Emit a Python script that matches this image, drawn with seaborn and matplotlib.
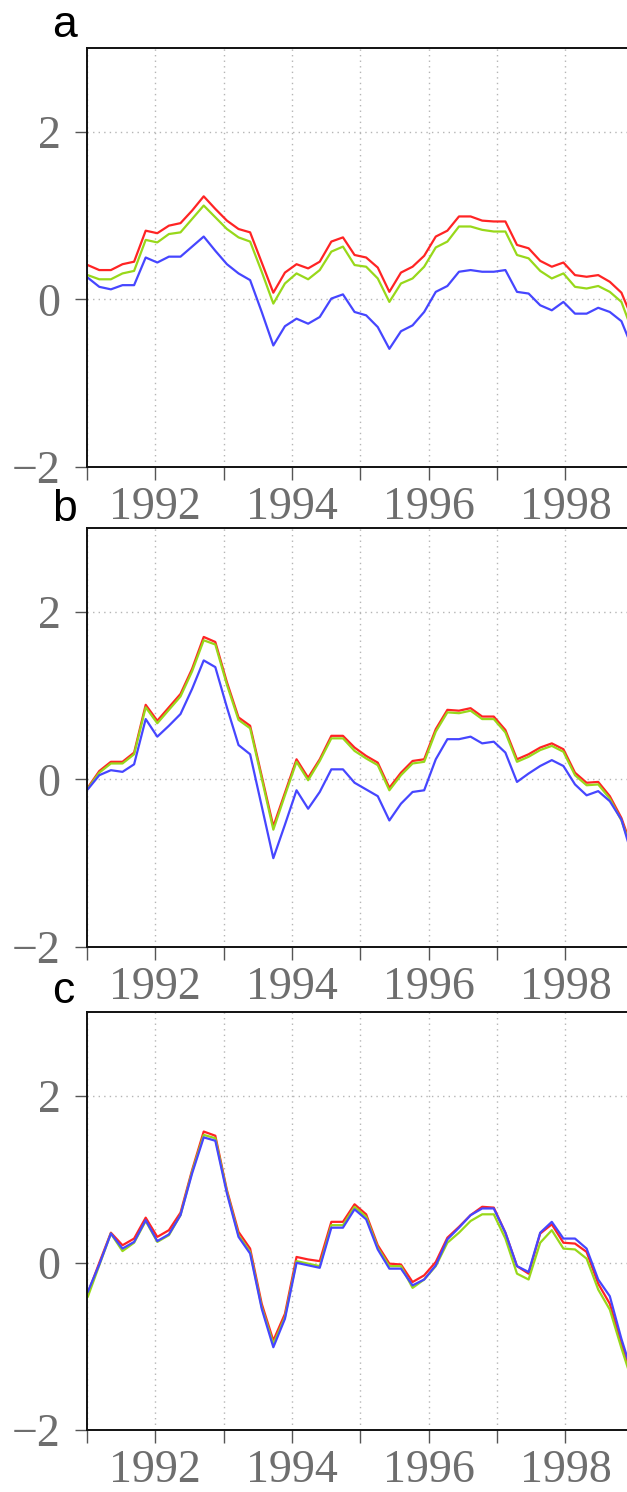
import numpy as np
import pandas as pd
import matplotlib
matplotlib.use("Agg")
import matplotlib.pyplot as plt
import seaborn as sns

# ---- data (bimonthly-ish samples starting early 1991) ----
n_points = 48
t0 = 1991.01
dt = 62 / 365.25
times = t0 + np.arange(n_points) * dt

a_red = [0.41, 0.35, 0.35, 0.42, 0.45, 0.82, 0.79, 0.88, 0.91, 1.06, 1.23, 1.08, 0.94, 0.84, 0.80, 0.44,
         0.08, 0.32, 0.42, 0.37, 0.45, 0.69, 0.74, 0.53, 0.50, 0.38, 0.09, 0.32, 0.39, 0.52, 0.75, 0.82,
         0.99, 0.99, 0.94, 0.93, 0.93, 0.65, 0.61, 0.46, 0.39, 0.44, 0.29, 0.27, 0.29, 0.21, 0.08, -0.25]
a_green = [0.29, 0.24, 0.24, 0.31, 0.34, 0.71, 0.68, 0.78, 0.80, 0.96, 1.12, 0.98, 0.84, 0.74, 0.69, 0.33,
           -0.05, 0.19, 0.31, 0.24, 0.35, 0.57, 0.63, 0.41, 0.39, 0.25, -0.03, 0.19, 0.25, 0.39, 0.62, 0.69,
           0.87, 0.87, 0.83, 0.81, 0.81, 0.53, 0.49, 0.34, 0.25, 0.31, 0.15, 0.13, 0.16, 0.09, -0.03, -0.40]
a_blue = [0.26, 0.15, 0.12, 0.17, 0.17, 0.50, 0.44, 0.51, 0.51, 0.63, 0.75, 0.58, 0.42, 0.31, 0.23, -0.15,
          -0.55, -0.32, -0.23, -0.29, -0.21, 0.01, 0.06, -0.15, -0.19, -0.33, -0.59, -0.38, -0.31, -0.15, 0.09, 0.16,
          0.33, 0.35, 0.33, 0.33, 0.35, 0.09, 0.07, -0.07, -0.13, -0.03, -0.17, -0.17, -0.10, -0.15, -0.26, -0.60]

b_red = [-0.10, 0.10, 0.21, 0.21, 0.32, 0.89, 0.70, 0.86, 1.02, 1.32, 1.70, 1.64, 1.16, 0.74, 0.64, 0.04,
         -0.56, -0.16, 0.24, 0.02, 0.24, 0.52, 0.52, 0.38, 0.28, 0.20, -0.10, 0.08, 0.22, 0.24, 0.60, 0.83,
         0.82, 0.85, 0.75, 0.75, 0.59, 0.24, 0.30, 0.38, 0.43, 0.36, 0.08, -0.04, -0.03, -0.20, -0.46, -0.85]
b_green = [-0.11, 0.08, 0.19, 0.19, 0.30, 0.86, 0.67, 0.83, 0.99, 1.29, 1.66, 1.61, 1.13, 0.71, 0.61, 0.01,
           -0.60, -0.19, 0.21, -0.01, 0.22, 0.49, 0.49, 0.34, 0.25, 0.17, -0.13, 0.05, 0.19, 0.21, 0.57, 0.80,
           0.79, 0.82, 0.72, 0.72, 0.56, 0.21, 0.27, 0.35, 0.40, 0.33, 0.05, -0.07, -0.06, -0.23, -0.49, -0.88]
b_blue = [-0.12, 0.05, 0.11, 0.09, 0.18, 0.72, 0.51, 0.64, 0.78, 1.08, 1.42, 1.34, 0.86, 0.41, 0.30, -0.32,
          -0.94, -0.54, -0.13, -0.35, -0.15, 0.12, 0.12, -0.04, -0.12, -0.20, -0.49, -0.29, -0.15, -0.13, 0.24, 0.48,
          0.48, 0.51, 0.43, 0.45, 0.32, -0.03, 0.07, 0.16, 0.23, 0.16, -0.06, -0.19, -0.14, -0.26, -0.48, -0.95]

c_red = [-0.37, 0.00, 0.36, 0.21, 0.29, 0.54, 0.31, 0.39, 0.60, 1.11, 1.57, 1.52, 0.87, 0.37, 0.17, -0.49,
         -0.93, -0.61, 0.07, 0.04, 0.02, 0.49, 0.49, 0.70, 0.58, 0.21, -0.01, -0.02, -0.23, -0.15, 0.01, 0.30,
         0.43, 0.57, 0.67, 0.66, 0.36, -0.04, -0.13, 0.35, 0.46, 0.24, 0.23, 0.13, -0.25, -0.49, -0.97, -1.40]
c_green = [-0.41, -0.03, 0.35, 0.14, 0.24, 0.50, 0.25, 0.33, 0.57, 1.09, 1.53, 1.49, 0.85, 0.33, 0.13, -0.53,
           -0.97, -0.65, 0.02, -0.01, -0.04, 0.45, 0.45, 0.67, 0.55, 0.18, -0.04, -0.04, -0.30, -0.20, -0.04, 0.24,
           0.36, 0.50, 0.58, 0.58, 0.29, -0.13, -0.20, 0.24, 0.39, 0.17, 0.16, 0.05, -0.32, -0.56, -1.02, -1.45]
c_blue = [-0.35, -0.02, 0.35, 0.17, 0.25, 0.51, 0.26, 0.34, 0.57, 1.07, 1.50, 1.46, 0.83, 0.31, 0.11, -0.55,
          -1.01, -0.67, 0.00, -0.03, -0.06, 0.42, 0.42, 0.64, 0.52, 0.16, -0.07, -0.07, -0.27, -0.20, -0.03, 0.28,
          0.42, 0.57, 0.65, 0.65, 0.36, -0.04, -0.11, 0.36, 0.49, 0.29, 0.29, 0.17, -0.20, -0.40, -0.91, -1.35]

panel_labels = ["a", "b", "c"]
series_names = ["red", "green", "blue"]
x_ticks = [1991, 1992, 1993, 1994, 1995, 1996, 1997, 1998]
x_ticklabels = ["", "1992", "", "1994", "", "1996", "", "1998"]
y_ticks = [-2, 0, 2]
y_ticklabels = ["\u22122", "0", "2"]

panels = {
    "a": {"red": a_red, "green": a_green, "blue": a_blue},
    "b": {"red": b_red, "green": b_green, "blue": b_blue},
    "c": {"red": c_red, "green": c_green, "blue": c_blue},
}
palette = {"red": "#ff2424", "green": "#98d81a", "blue": "#4646ff"}

sns.set_theme(style="white")
plt.rcParams["font.family"] = ["DejaVu Sans"]

W, H = 627, 1492
fig = plt.figure(figsize=(W / 100, H / 100), dpi=100)

# axes boxes in pixels: (top, bottom) and panel-letter baselines
boxes = [(48, 467), (528, 947), (1012, 1430)]
letter_baselines = [37, 521, 1003]
left_px = 87

serif = ["Liberation Serif", "DejaVu Serif"]
for lab, (top, bot), base in zip(panel_labels, boxes, letter_baselines):
    ax = fig.add_axes([left_px / W, 1 - bot / H, 1 - left_px / W, (bot - top) / H])
    rows = []
    for s in series_names:
        for t, v in zip(times, panels[lab][s]):
            rows.append({"t": t, "value": v, "series": s})
    df = pd.DataFrame(rows)
    sns.lineplot(data=df, x="t", y="value", hue="series", hue_order=series_names,
                 palette=palette, legend=False, linewidth=1.6, ax=ax, sort=False)
    ax.set_xlim(1991, 1998.9)
    ax.set_ylim(-2, 3)
    ax.set_xticks(x_ticks)
    ax.set_xticklabels(x_ticklabels, fontfamily=serif, fontsize=33, color="#6e6e6e")
    ax.set_yticks(y_ticks)
    ax.set_yticklabels(y_ticklabels, fontfamily=serif, fontsize=33, color="#6e6e6e")
    ax.set_xlabel("")
    ax.set_ylabel("")
    ax.grid(True, linestyle=(0, (1, 3)), color="#b5b5b5", linewidth=1.0)
    ax.tick_params(axis="both", direction="out", length=9, width=1.0, color="#555555",
                   bottom=True, left=True)
    ax.tick_params(axis="x", pad=5)
    ax.tick_params(axis="y", pad=10)
    for side in ["left", "top", "bottom"]:
        ax.spines[side].set_visible(True)
        ax.spines[side].set_color("#111111")
        ax.spines[side].set_linewidth(1.4)
    ax.spines["right"].set_visible(False)
    fig.text(52 / W, 1 - base / H, lab, fontsize=32, color="black",
             ha="left", va="baseline", family="Liberation Sans")

fig.savefig("out.png", dpi=100)
